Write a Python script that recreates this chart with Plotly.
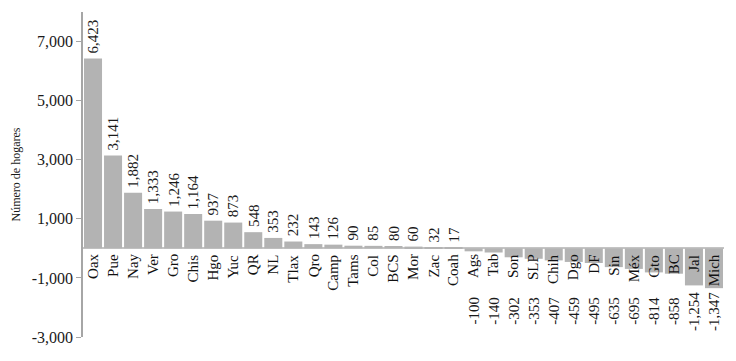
import plotly.graph_objects as go

# Entidades y cambio en número de hogares
estados = ["Oax", "Pue", "Nay", "Ver", "Gro", "Chis", "Hgo", "Yuc", "QR", "NL",
           "Tlax", "Qro", "Camp", "Tams", "Col", "BCS", "Mor", "Zac", "Coah",
           "Ags", "Tab", "Son", "SLP", "Chih", "Dgo", "DF", "Sin", "Méx", "Gto",
           "BC", "Jal", "Mich"]
hogares = [6423, 3141, 1882, 1333, 1246, 1164, 937, 873, 548, 353,
           232, 143, 126, 90, 85, 80, 60, 32, 17,
           -100, -140, -302, -353, -407, -459, -495, -635, -695, -814,
           -858, -1254, -1347]

ytick_vals = [7000, 5000, 3000, 1000, -1000, -3000]
ytick_text = ["7,000", "5,000", "3,000", "1,000", "-1,000", "-3,000"]

SERIF = "Liberation Serif, Times New Roman, serif"
NEG_LABEL_Y = -2120


def fmt(v):
    return f"{v:,}"


fig = go.Figure(
    go.Bar(
        x=estados,
        y=hogares,
        marker=dict(color="#b3b3b3", line=dict(width=0)),
        hoverinfo="x+y",
    )
)

# etiquetas de valor y de categoría
for est, val in zip(estados, hogares):
    if val >= 0:
        fig.add_annotation(x=est, y=val, text=fmt(val), textangle=-90,
                           showarrow=False, yanchor="bottom", yshift=3,
                           font=dict(family=SERIF, size=15, color="#1a1a1a"))
    else:
        fig.add_annotation(x=est, y=NEG_LABEL_Y, text=fmt(val), textangle=-90,
                           showarrow=False, yanchor="middle",
                           font=dict(family=SERIF, size=15, color="#1a1a1a"))
    fig.add_annotation(x=est, y=0, text=est, textangle=-90, showarrow=False,
                       yanchor="top", yshift=-4,
                       font=dict(family=SERIF, size=15, color="#111111"))

fig.update_layout(
    width=736,
    height=361,
    margin=dict(l=83, r=12, t=12, b=24),
    paper_bgcolor="white",
    plot_bgcolor="white",
    bargap=0.1,
    showlegend=False,
    xaxis=dict(visible=False, range=[-0.5, len(estados) - 0.5]),
    yaxis=dict(
        range=[-3000, 8000],
        automargin=False,
        tickvals=ytick_vals,
        ticktext=ytick_text,
        showgrid=False,
        zeroline=True,
        zerolinecolor="#c4c4c4",
        zerolinewidth=2,
        showline=True,
        linecolor="#a6a6a6",
        linewidth=1.5,
        ticks="outside",
        ticklen=5,
        tickcolor="#a6a6a6",
        tickfont=dict(family=SERIF, size=16, color="#1a1a1a"),
        title=dict(text="Número de hogares", standoff=9,
                   font=dict(family=SERIF, size=12, color="#1a1a1a")),
    ),
)

# quitar el margen por defecto del body para que la figura ocupe la ventana
fig.write_html("out.html", config={"displayModeBar": False},
               post_script="document.body.style.margin='0';")
